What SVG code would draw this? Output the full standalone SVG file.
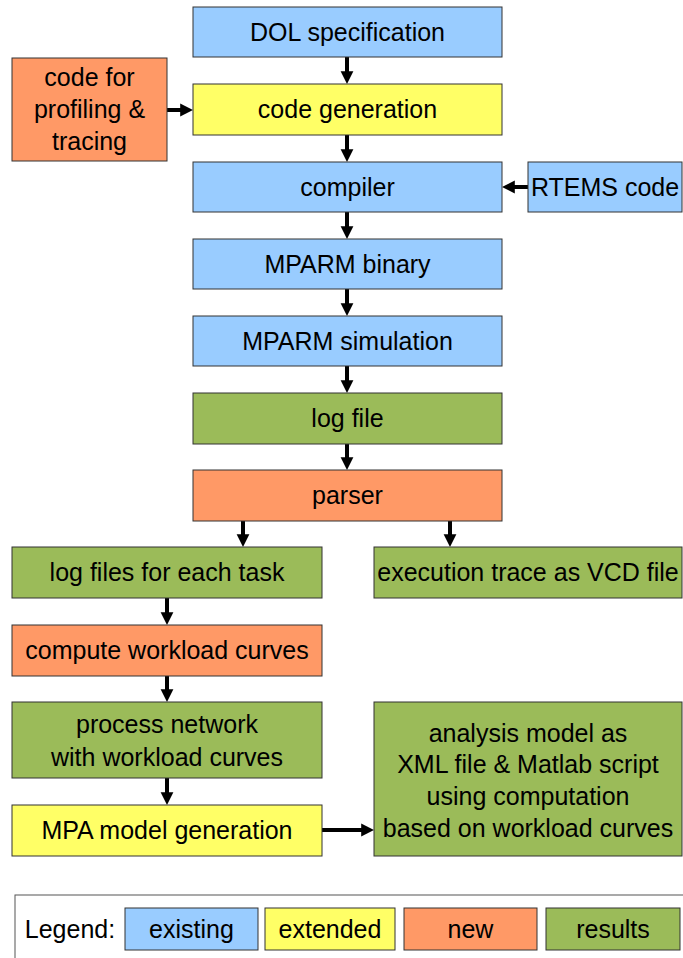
<svg xmlns="http://www.w3.org/2000/svg" width="683" height="958" viewBox="0 0 683 958">
<style>
.b{stroke:#333;stroke-width:1}
.ex{fill:#99ccff}.ext{fill:#ffff66}.nw{fill:#ff9966}.rs{fill:#9bbb59}
text{font-family:"Liberation Sans",Arial,sans-serif;font-size:25px;fill:#000;text-anchor:middle}
.c line{stroke:#000;stroke-width:4}
</style>
<defs>
<marker id="a" markerWidth="4" markerHeight="4" refX="2.2" refY="2" orient="auto" markerUnits="strokeWidth">
<path d="M0,0.4 L3.2,2 L0,3.6 Z" fill="#000"/>
</marker>
</defs>
<rect width="683" height="958" fill="#fff"/>
<g class="c">
<line x1="347" y1="57" x2="347" y2="80" marker-end="url(#a)"/>
<line x1="347" y1="135" x2="347" y2="158" marker-end="url(#a)"/>
<line x1="347" y1="212" x2="347" y2="235" marker-end="url(#a)"/>
<line x1="347" y1="289" x2="347" y2="312" marker-end="url(#a)"/>
<line x1="347" y1="366" x2="347" y2="389" marker-end="url(#a)"/>
<line x1="347" y1="444" x2="347" y2="466" marker-end="url(#a)"/>
<line x1="167" y1="110" x2="189" y2="110" marker-end="url(#a)"/>
<line x1="528" y1="187" x2="506" y2="187" marker-end="url(#a)"/>
<line x1="243" y1="521" x2="243" y2="543" marker-end="url(#a)"/>
<line x1="450" y1="521" x2="450" y2="543" marker-end="url(#a)"/>
<line x1="167" y1="598" x2="167" y2="621" marker-end="url(#a)"/>
<line x1="167" y1="676" x2="167" y2="698" marker-end="url(#a)"/>
<line x1="167" y1="778" x2="167" y2="801" marker-end="url(#a)"/>
<line x1="322" y1="830" x2="370" y2="830" marker-end="url(#a)"/>
</g>
<g id="dol"><rect class="b ex" x="193" y="7" width="309" height="50"/><text x="347.5" y="41">DOL specification</text></g>
<g id="codegen"><rect class="b ext" x="193" y="84" width="309" height="51"/><text x="347.5" y="118">code generation</text></g>
<g id="profiling"><rect class="b nw" x="12" y="58" width="155" height="103"/><text x="89.5" y="86">code for</text><text x="89.5" y="118">profiling &amp;</text><text x="89.5" y="150">tracing</text></g>
<g id="compiler"><rect class="b ex" x="193" y="162" width="309" height="50"/><text x="347.5" y="196">compiler</text></g>
<g id="rtems"><rect class="b ex" x="528" y="162" width="154" height="50"/><text x="605" y="196">RTEMS code</text></g>
<g id="binary"><rect class="b ex" x="193" y="239" width="309" height="50"/><text x="347.5" y="273">MPARM binary</text></g>
<g id="sim"><rect class="b ex" x="193" y="316" width="309" height="50"/><text x="347.5" y="350">MPARM simulation</text></g>
<g id="logfile"><rect class="b rs" x="193" y="393" width="309" height="51"/><text x="347.5" y="427">log file</text></g>
<g id="parser"><rect class="b nw" x="193" y="470" width="309" height="51"/><text x="347.5" y="504">parser</text></g>
<g id="logtask"><rect class="b rs" x="12" y="547" width="310" height="51"/><text x="167" y="581">log files for each task</text></g>
<g id="vcd"><rect class="b rs" x="374" y="547" width="308" height="51"/><text x="528" y="581">execution trace as VCD file</text></g>
<g id="compute"><rect class="b nw" x="12" y="625" width="310" height="51"/><text x="167" y="659">compute workload curves</text></g>
<g id="pn"><rect class="b rs" x="12" y="702" width="310" height="76"/><text x="167" y="733">process network</text><text x="167" y="766">with workload curves</text></g>
<g id="mpa"><rect class="b ext" x="12" y="805" width="310" height="51"/><text x="167" y="839">MPA model generation</text></g>
<g id="analysis"><rect class="b rs" x="374" y="702" width="308" height="154"/><text x="528" y="742">analysis model as</text><text x="528" y="773">XML file &amp; Matlab script</text><text x="528" y="805">using computation</text><text x="528" y="837">based on workload curves</text></g>
<g id="legend">
<rect x="15" y="895" width="680" height="80" fill="none" stroke="#555" stroke-width="1"/>
<text x="70" y="938">Legend:</text>
<rect class="b ex" x="125" y="908" width="133" height="42"/><text x="191.5" y="938">existing</text>
<rect class="b ext" x="265" y="908" width="130" height="42"/><text x="330" y="938">extended</text>
<rect class="b nw" x="404" y="908" width="133" height="42"/><text x="470.5" y="938">new</text>
<rect class="b rs" x="546" y="908" width="134" height="42"/><text x="613" y="938">results</text>
</g>
</svg>
